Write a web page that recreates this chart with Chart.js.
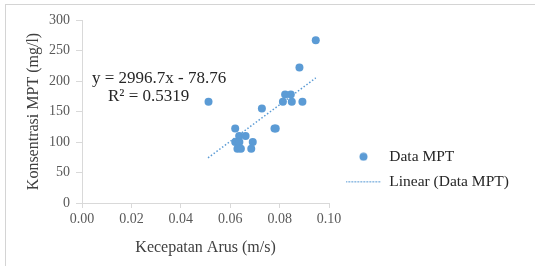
<!DOCTYPE html>
<html>
<head>
<meta charset="utf-8">
<script src="https://cdn.jsdelivr.net/npm/chart.js@4.4.1/dist/chart.umd.min.js"></script>
<style>
  body { margin: 0; background: #ffffff; }
  #caja { position: relative; width: 535px; height: 266px; overflow: hidden; }
  #marco {
    position: absolute; left: 5px; top: 4px; width: 540px; height: 270px;
    border-top: 1.5px solid #d4d4d4; border-left: 1.5px solid #d4d4d4;
    pointer-events: none;
  }
  canvas { position: absolute; left: 0; top: 0; }
</style>
</head>
<body>
<div id="caja">
  <canvas id="grafico" width="535" height="266"></canvas>
  <div id="marco"></div>
</div>
<script>
// ===============================
// DATOS
// ===============================

const kecepatan = [0.0512, 0.0620, 0.0636, 0.0662, 0.0620, 0.0637, 0.0691, 0.0629, 0.0643, 0.0685,
                   0.0728, 0.0779, 0.0784, 0.0822, 0.0845, 0.0813, 0.0849, 0.0892, 0.0880, 0.0946];
const konsentrasi = [166, 122, 110, 110, 100, 100, 100, 89, 89, 89,
                     155, 122, 122, 178, 178, 166, 166, 166, 222, 267];

// extremos de la línea de tendencia
const tendenciaX = [0.051, 0.0946];
const tendenciaY = [74, 205];

const etiquetasX = ["0.00", "0.02", "0.04", "0.06", "0.08", "0.10"];
const etiquetasY = ["0", "50", "100", "150", "200", "250", "300"];

const ecuacion = ["y = 2996.7x - 78.76", "R\u00b2 = 0.5319"];

const azul = "#5b9bd5";
const fuente = "'Liberation Serif', 'Times New Roman', serif";

// ===============================
// MARCAS DE LA LEYENDA
// ===============================

const marcaPunto = document.createElement("canvas");
marcaPunto.width = 9;
marcaPunto.height = 9;
const cp = marcaPunto.getContext("2d");
cp.fillStyle = azul;
cp.beginPath();
cp.arc(4.5, 4.5, 4, 0, Math.PI * 2);
cp.fill();

const marcaLinea = document.createElement("canvas");
marcaLinea.width = 36;
marcaLinea.height = 2;
const cl = marcaLinea.getContext("2d");
cl.fillStyle = azul;
for (let i = 0; i < 36; i += 3) {
  cl.fillRect(i, 0, 1.5, 1.5);
}

// ===============================
// PLUGINS
// ===============================

// mueve la leyenda a su sitio
const ajustarLeyenda = {
  id: "ajustarLeyenda",
  afterLayout(chart) {
    const ley = chart.legend;
    ley.left = 336;
    ley.right = ley.left + ley.width;
    ley.top = 80.4;
  }
};

// texto de la ecuación de la tendencia
const textoEcuacion = {
  id: "textoEcuacion",
  afterDatasetsDraw(chart) {
    const ctx = chart.ctx;
    ctx.save();
    ctx.font = "17px " + fuente;
    ctx.fillStyle = "#262626";
    ctx.textAlign = "left";
    ctx.textBaseline = "middle";
    ctx.fillText(ecuacion[0], 92, 79);
    ctx.fillText(ecuacion[1], 108, 97);
    ctx.restore();
  }
};

// ===============================
// GRÁFICA
// ===============================

const ctx = document.getElementById("grafico").getContext("2d");

const grafica = new Chart(ctx, {
  type: "scatter",
  data: {
    datasets: [
      {
        label: "Data MPT",
        data: kecepatan.map(function (v, i) { return { x: v, y: konsentrasi[i] }; }),
        backgroundColor: azul,
        borderWidth: 0,
        pointRadius: 4,
        pointHoverRadius: 4
      },
      {
        label: "Linear (Data MPT)",
        data: tendenciaX.map(function (v, i) { return { x: v, y: tendenciaY[i] }; }),
        showLine: true,
        borderColor: azul,
        backgroundColor: azul,
        borderWidth: 1.5,
        borderDash: [1.5, 2],
        pointRadius: 0,
        pointHoverRadius: 0
      }
    ]
  },
  options: {
    responsive: false,
    animation: false,
    devicePixelRatio: 1,
    layout: { padding: { left: 10, right: 23, top: 20, bottom: 8 } },
    plugins: {
      tooltip: { enabled: false },
      legend: {
        position: "right",
        maxWidth: 190,
        labels: {
          usePointStyle: true,
          pointStyleWidth: 36,
          padding: 9.5,
          color: "#262626",
          font: { family: fuente, size: 15.5 },
          generateLabels: function (chart) {
            const items = Chart.defaults.plugins.legend.labels.generateLabels(chart);
            items[0].pointStyle = marcaPunto;
            items[1].pointStyle = marcaLinea;
            return items;
          }
        }
      }
    },
    scales: {
      x: {
        type: "linear",
        min: 0,
        max: 0.1,
        afterFit: function (escala) { escala.height = 55; },
        ticks: {
          stepSize: 0.02,
          padding: 3,
          color: "#595959",
          font: { family: fuente, size: 14 },
          callback: function (valor, indice) { return etiquetasX[indice]; }
        },
        grid: { drawOnChartArea: false, color: "#d9d9d9", tickLength: 5 },
        border: { color: "#d9d9d9" },
        title: {
          display: true,
          text: "Kecepatan Arus (m/s)",
          color: "#404040",
          font: { family: fuente, size: 16 },
          padding: { top: 0, bottom: 1 }
        }
      },
      y: {
        min: 0,
        max: 300,
        afterFit: function (escala) { escala.width = 72; },
        ticks: {
          stepSize: 50,
          padding: 6,
          color: "#595959",
          font: { family: fuente, size: 14 },
          callback: function (valor, indice) { return etiquetasY[indice]; }
        },
        grid: { drawOnChartArea: false, color: "#d9d9d9", tickLength: 6 },
        border: { color: "#d9d9d9" },
        title: {
          display: true,
          text: "Konsentrasi MPT (mg/l)",
          color: "#404040",
          font: { family: fuente, size: 16 },
          padding: { top: 14.4, bottom: 0 }
        }
      }
    }
  },
  plugins: [ajustarLeyenda, textoEcuacion]
});
</script>
</body>
</html>
